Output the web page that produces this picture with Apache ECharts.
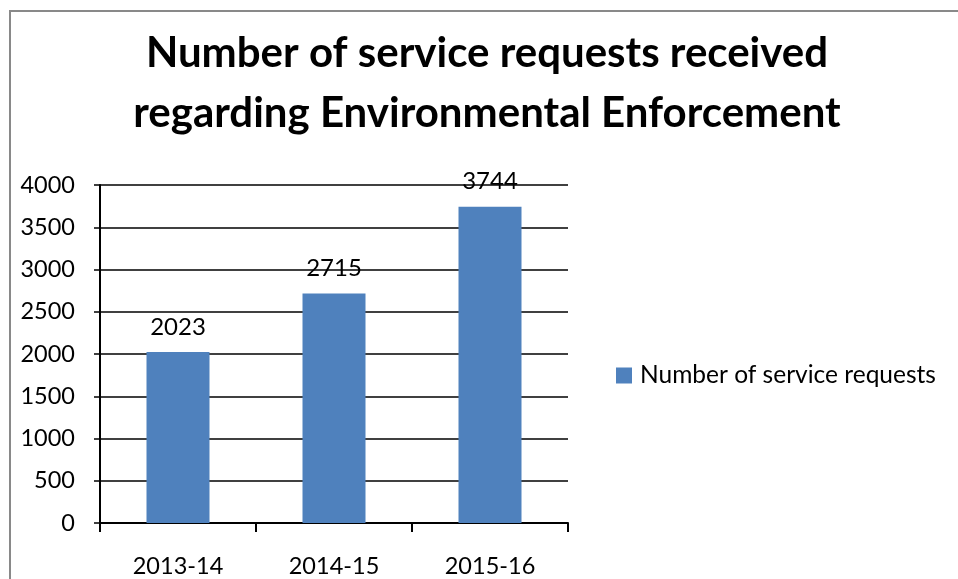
<!DOCTYPE html>
<html>
<head>
<meta charset="utf-8">
<script src="https://cdn.jsdelivr.net/npm/echarts@6/dist/echarts.min.js"></script>
<style>
html,body{margin:0;padding:0;background:#fff;}
#chart{width:958px;height:579px;}
</style>
</head>
<body>
<div id="chart"></div>
<script>
const categories = ['2013-14', '2014-15', '2015-16'];
const requests = [2023, 2715, 3744];
const seriesName = 'Number of service requests';
const titleText = 'Number of service requests received\nregarding Environmental Enforcement';

const chart = echarts.init(document.getElementById('chart'));
const font = 'Lato, "Open Sans", sans-serif';
chart.setOption({
  animation: false,
  backgroundColor: '#fff',
  textStyle: { fontFamily: font },
  graphic: [{
    type: 'rect',
    shape: { x: 10, y: 11, width: 1000, height: 700 },
    style: { fill: 'none', stroke: '#898989', lineWidth: 2 },
    z: -1
  }],
  title: {
    text: titleText,
    left: 482,
    top: 18,
    textAlign: 'center',
    textStyle: { fontFamily: font, fontWeight: 'bold', fontSize: 42, lineHeight: 60, color: '#000' }
  },
  legend: {
    data: [seriesName],
    left: 616,
    top: 363,
    padding: 0,
    itemWidth: 16,
    itemHeight: 16,
    icon: 'rect',
    textStyle: { fontFamily: font, fontSize: 24.5, color: '#000', padding: [0, 0, 0, 3] }
  },
  grid: { left: 100, right: 390, top: 185, bottom: 56, containLabel: false },
  xAxis: {
    type: 'category',
    data: categories,
    boundaryGap: true,
    axisLine: { show: true, lineStyle: { color: '#000', width: 2 } },
    axisTick: { show: true, length: 9, lineStyle: { color: '#000', width: 2 } },
    axisLabel: { fontFamily: font, fontSize: 23.5, color: '#000', margin: 31 },
    splitLine: { show: false }
  },
  yAxis: {
    type: 'value',
    min: 0,
    max: 4000,
    interval: 500,
    axisLine: { show: true, lineStyle: { color: '#000', width: 2 } },
    axisTick: { show: true, length: 6, lineStyle: { color: '#000', width: 1.5 } },
    axisLabel: { fontFamily: font, fontSize: 23.5, color: '#000', margin: 25, formatter: function (v) { return String(v); } },
    splitLine: { show: true, lineStyle: { color: '#000', width: 1.5 } }
  },
  series: [{
    name: seriesName,
    type: 'bar',
    data: requests,
    barWidth: 63,
    itemStyle: { color: '#4F81BD' },
    label: { show: true, position: 'top', distance: 13, fontFamily: font, fontSize: 24, color: '#000' }
  }]
});
</script>
</body>
</html>
